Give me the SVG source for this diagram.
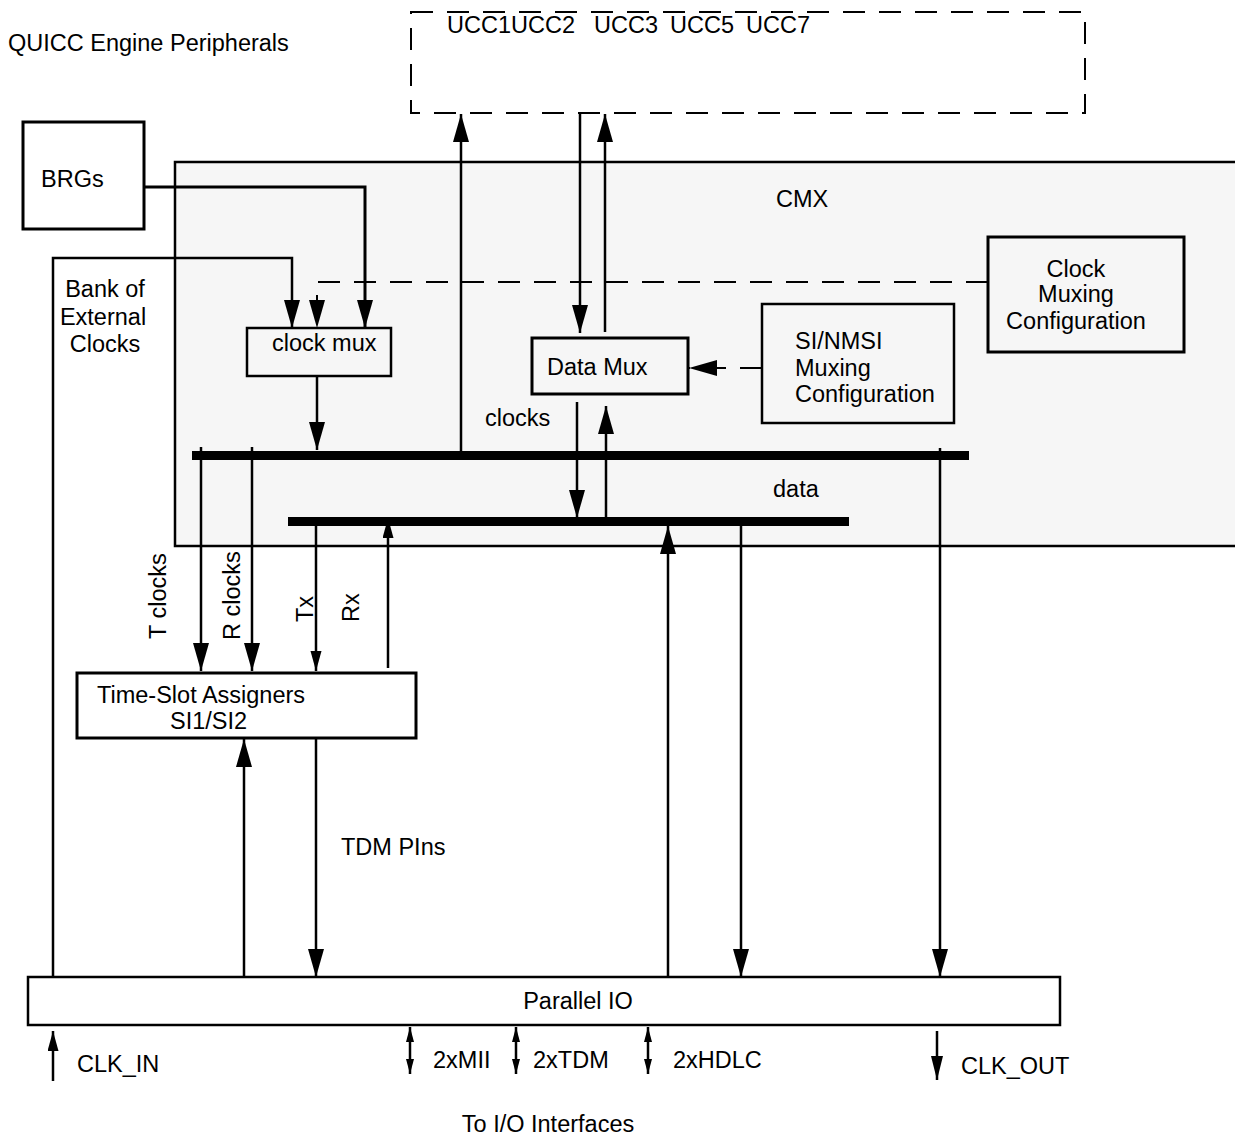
<svg xmlns="http://www.w3.org/2000/svg" width="1235" height="1137" viewBox="0 0 1235 1137">
  <style>
    text { font-family: "Liberation Sans", Arial, sans-serif; font-size: 23.5px; fill: #000; }
    .box { fill: none; stroke: #000; stroke-width: 2.5; }
    .thick { fill: none; stroke: #000; stroke-width: 3; }
    .dash { fill: none; stroke: #000; stroke-width: 2; stroke-dasharray: 22 14; }
    .wire { fill: none; stroke: #000; stroke-width: 2.5; }
    .bus { fill: #000; }
    .mid { text-anchor: middle; }
  </style>
  <defs>
    <marker id="big" markerUnits="userSpaceOnUse" markerWidth="30" markerHeight="18" refX="28" refY="8" orient="auto">
      <path d="M0,0 L28,8 L0,16 z" fill="#000"/>
    </marker>
    <marker id="small" markerUnits="userSpaceOnUse" markerWidth="22" markerHeight="12" refX="20" refY="5.5" orient="auto">
      <path d="M0,0 L20,5.5 L0,11 z" fill="#000"/>
    </marker>
    <marker id="mid" markerUnits="userSpaceOnUse" markerWidth="26" markerHeight="14" refX="24" refY="6" orient="auto">
      <path d="M0,0 L24,6 L0,12 z" fill="#000"/>
    </marker>
    <marker id="tiny" markerUnits="userSpaceOnUse" markerWidth="17" markerHeight="9" refX="15" refY="4" orient="auto-start-reverse">
      <path d="M0,0 L15,4 L0,8 z" fill="#000"/>
    </marker>
  </defs>

  <!-- CMX block background -->
  <g id="cmx">
    <rect x="175" y="162" width="1070" height="384" fill="#f6f6f6" stroke="#000" stroke-width="2.5"/>
    <text x="776" y="207">CMX</text>
  </g>

  <!-- QUICC Engine peripherals (dashed outline) -->
  <g id="peripherals">
    <rect x="411" y="12" width="674" height="101" class="dash"/>
    <text x="8" y="51">QUICC Engine Peripherals</text>
    <text x="447" y="33">UCC1UCC2</text>
    <text x="594" y="33">UCC3</text>
    <text x="670" y="33">UCC5</text>
    <text x="746" y="33">UCC7</text>
  </g>

  <g id="brgs">
    <rect x="23" y="122" width="121" height="107" class="thick"/>
    <text x="41" y="187">BRGs</text>
  </g>

  <g id="ext-clocks">
    <text x="105" y="297" class="mid">Bank of</text>
    <text x="103" y="325" class="mid">External</text>
    <text x="105" y="352" class="mid">Clocks</text>
  </g>

  <g id="clock-mux">
    <rect x="247" y="328" width="144" height="48" class="box"/>
    <text x="272" y="351">clock mux</text>
  </g>

  <g id="data-mux">
    <rect x="532" y="338" width="156" height="56" class="thick"/>
    <text x="547" y="375">Data Mux</text>
  </g>

  <g id="si-nmsi-config">
    <rect x="762" y="304" width="192" height="119" class="box"/>
    <text x="795" y="349">SI/NMSI</text>
    <text x="795" y="376">Muxing</text>
    <text x="795" y="402">Configuration</text>
  </g>

  <g id="clock-mux-config">
    <rect x="988" y="237" width="196" height="115" class="thick"/>
    <text x="1076" y="277" class="mid">Clock</text>
    <text x="1076" y="302" class="mid">Muxing</text>
    <text x="1076" y="329" class="mid">Configuration</text>
  </g>

  <g id="tsa">
    <rect x="77" y="673" width="339" height="65" class="thick"/>
    <text x="97" y="703">Time-Slot Assigners</text>
    <text x="170" y="729">SI1/SI2</text>
  </g>

  <g id="parallel-io">
    <rect x="28" y="977" width="1032" height="48" class="box"/>
    <text x="578" y="1009" class="mid">Parallel IO</text>
  </g>

  <!-- buses -->
  <g id="buses">
    <rect x="192" y="451" width="777" height="9" class="bus"/>
    <rect x="288" y="517" width="561" height="9" class="bus"/>
    <text x="485" y="426">clocks</text>
    <text x="773" y="497">data</text>
  </g>

  <!-- connectors -->
  <g id="connectors">
    <path d="M144,187 H365 V328" class="thick" marker-end="url(#big)"/>
    <path d="M53,977 V258 H292 V328" class="wire" marker-end="url(#big)"/>
    <path d="M988,282 H317 V328" class="dash" marker-end="url(#big)"/>
    <path d="M317,376 V450" class="wire" marker-end="url(#big)"/>

    <path d="M461,451 V114" class="wire" marker-end="url(#big)"/>
    <path d="M580,114 V333" class="wire" marker-end="url(#big)"/>
    <path d="M605,332 V114" class="wire" marker-end="url(#big)"/>

    <path d="M762,368 H689" class="dash" marker-end="url(#big)"/>

    <path d="M577,402 V518" class="wire" marker-end="url(#big)"/>
    <path d="M606,517 V406" class="wire" marker-end="url(#big)"/>

    <path d="M201,447 V671" class="wire" marker-end="url(#big)"/>
    <path d="M252,447 V671" class="wire" marker-end="url(#big)"/>
    <path d="M316,526 V671" class="wire" marker-end="url(#small)"/>
    <path d="M388,668 V518" class="wire" marker-end="url(#small)"/>

    <path d="M244,977 V739" class="wire" marker-end="url(#big)"/>
    <path d="M316,739 V977" class="wire" marker-end="url(#big)"/>
    <path d="M668,977 V526" class="wire" marker-end="url(#big)"/>
    <path d="M741,526 V977" class="wire" marker-end="url(#big)"/>
    <path d="M940,448 V977" class="wire" marker-end="url(#big)"/>

    <path d="M53,1081 V1031" class="wire" marker-end="url(#small)"/>
    <path d="M410,1027 V1074" class="wire" marker-start="url(#tiny)" marker-end="url(#tiny)"/>
    <path d="M516,1027 V1074" class="wire" marker-start="url(#tiny)" marker-end="url(#tiny)"/>
    <path d="M648,1027 V1074" class="wire" marker-start="url(#tiny)" marker-end="url(#tiny)"/>
    <path d="M937,1031 V1080" class="wire" marker-end="url(#mid)"/>
  </g>

  <!-- connector labels -->
  <g id="labels">
    <text transform="translate(166,639) rotate(-90)">T clocks</text>
    <text transform="translate(240,640) rotate(-90)">R clocks</text>
    <text transform="translate(313,622) rotate(-90)">Tx</text>
    <text transform="translate(359,622) rotate(-90)">Rx</text>
    <text x="341" y="855">TDM PIns</text>
    <text x="77" y="1072">CLK_IN</text>
    <text x="433" y="1068">2xMII</text>
    <text x="533" y="1068">2xTDM</text>
    <text x="673" y="1068">2xHDLC</text>
    <text x="961" y="1074">CLK_OUT</text>
    <text x="548" y="1132" class="mid">To I/O Interfaces</text>
  </g>
</svg>
